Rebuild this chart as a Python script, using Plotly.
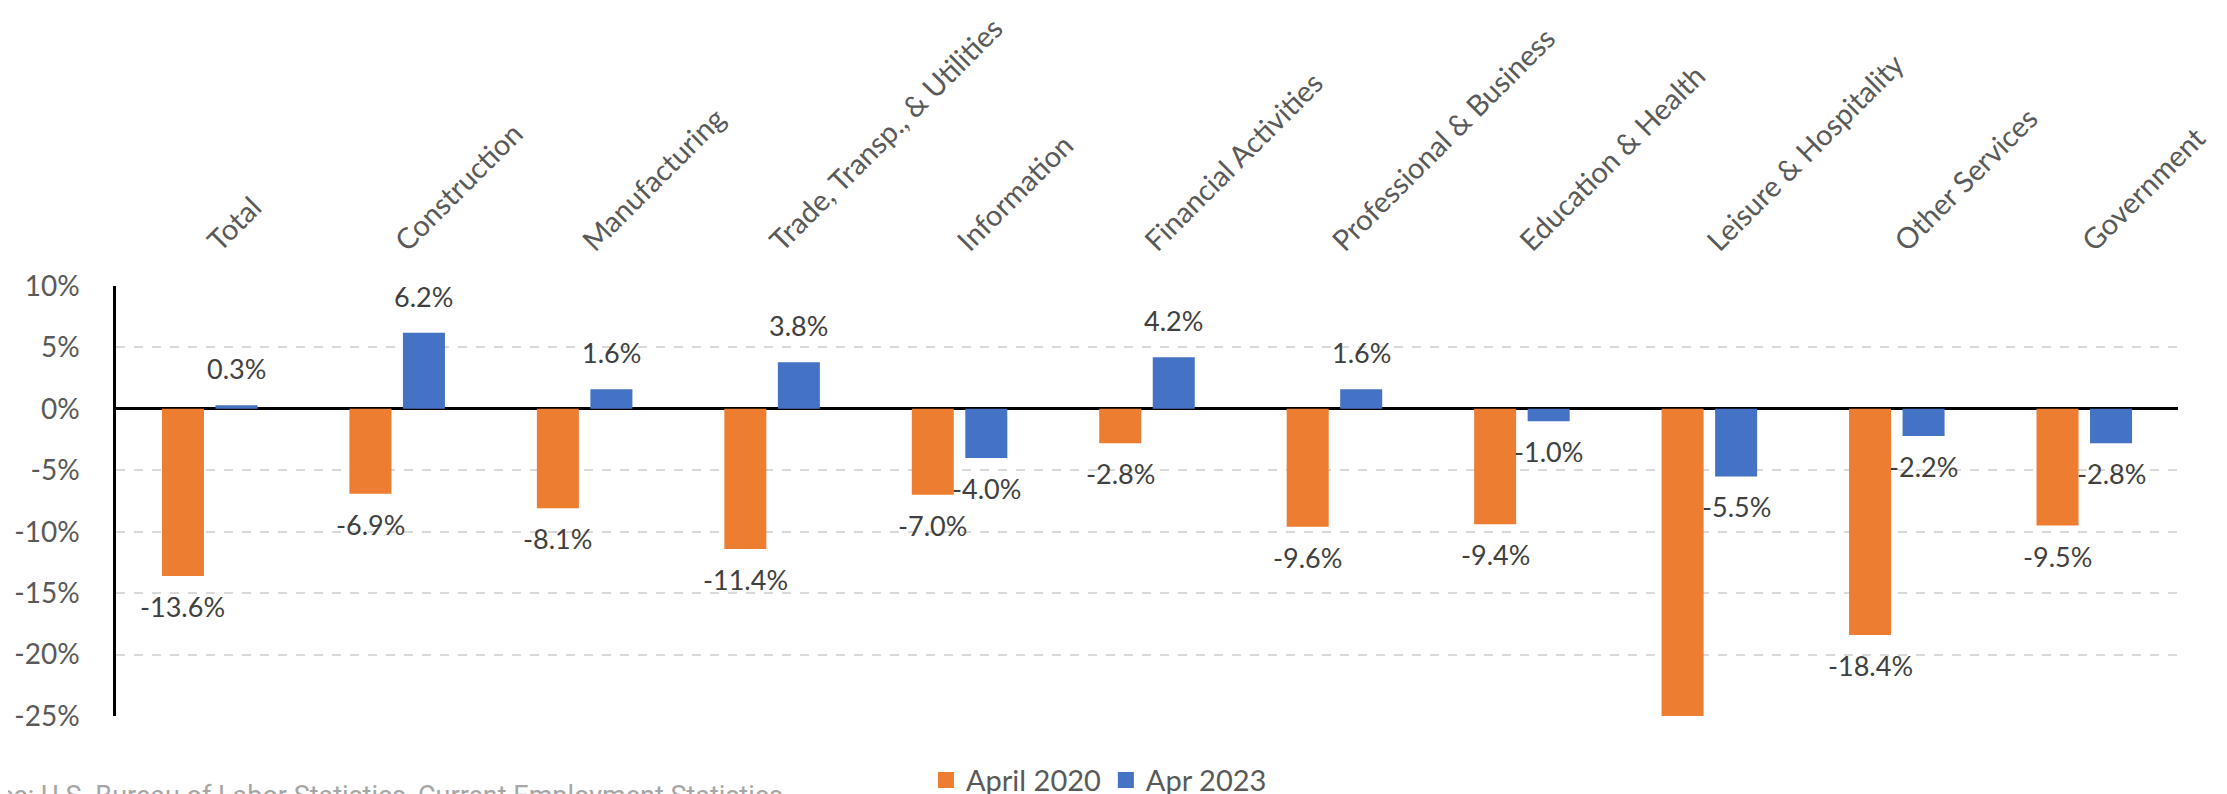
import plotly.graph_objects as go

categories = ["Total", "Construction", "Manufacturing", "Trade, Transp., & Utilities",
              "Information", "Financial Activities", "Professional & Business",
              "Education & Health", "Leisure & Hospitality", "Other Services", "Government"]
april_2020 = [-13.6, -6.9, -8.1, -11.4, -7.0, -2.8, -9.6, -9.4, -25.2, -18.4, -9.5]
apr_2023 = [0.3, 6.2, 1.6, 3.8, -4.0, 4.2, 1.6, -1.0, -5.5, -2.2, -2.8]
series_names = ["April 2020", "Apr 2023"]
y_ticks = [10, 5, 0, -5, -10, -15, -20, -25]

ORANGE = "#ED7D31"
BLUE = "#4472C4"
FONT = "Lato, Calibri, Carlito, sans-serif"
AXIS_COLOR = "#595959"
LABEL_COLOR = "#404040"

W, H = 2227, 794
ML, MR, MT, MB = 108, 57, 278, 86
BARGAP = 0.429
BARGROUPGAP = 0.215
Y_MIN, Y_MAX = -25, 10

fig = go.Figure()
for name, vals, col in ((series_names[0], april_2020, ORANGE), (series_names[1], apr_2023, BLUE)):
    fig.add_trace(go.Bar(name=name, x=categories, y=vals, showlegend=False,
                         marker=dict(color=col, line=dict(width=0))))
# legend entries with larger square swatches
for name, col in ((series_names[0], ORANGE), (series_names[1], BLUE)):
    fig.add_trace(go.Scatter(name=name, x=[None], y=[None], mode="markers",
                             marker=dict(symbol="square", size=17, color=col)))

# data labels
plot_w = W - ML - MR
plot_h = H - MT - MB
cat_px = plot_w / len(categories)
half_slot = (1 - BARGAP) * cat_px / 4
annotations = []
for series, shift in ((april_2020, -half_slot), (apr_2023, half_slot)):
    for cat, v in zip(categories, series):
        if v < Y_MIN or v > Y_MAX:
            continue
        pos = v >= 0
        annotations.append(dict(
            x=cat, y=v, xref="x", yref="y", text=f"{v:.1f}%", showarrow=False,
            xshift=shift, yshift=18 if pos else -12,
            yanchor="bottom" if pos else "top", xanchor="center",
            font=dict(family=FONT, size=27, color=LABEL_COLOR)))

annotations.append(dict(
    x=-(ML + 66) / plot_w, y=-(770 - (H - MB)) / plot_h, xref="paper", yref="paper",
    xanchor="left", yanchor="top", showarrow=False,
    text="Source: U.S. Bureau of Labor Statistics, Current Employment Statistics",
    font=dict(family="Roboto, sans-serif", size=27, color="#A6A6A6")))

fig.update_layout(
    width=W, height=H,
    margin=dict(l=ML, r=MR, t=MT, b=MB, autoexpand=False),
    barmode="group", bargap=BARGAP, bargroupgap=BARGROUPGAP,
    plot_bgcolor="white", paper_bgcolor="white",
    font=dict(family=FONT, size=27, color=AXIS_COLOR),
    showlegend=True,
    legend=dict(orientation="h", x=0.4767, xanchor="center", y=-0.09, yanchor="top",
                font=dict(family=FONT, size=29, color=AXIS_COLOR),
                itemwidth=30, traceorder="normal", tracegroupgap=0),
    annotations=annotations,
)
fig.update_xaxes(side="top", tickangle=-45, ticks="", showgrid=False, showline=False,
                 tickfont=dict(family=FONT, size=29, color=AXIS_COLOR),
                 ticklabelstandoff=22)
fig.update_yaxes(range=[Y_MIN, Y_MAX], tickvals=y_ticks, ticktext=[f"{t}%" for t in y_ticks],
                 showgrid=True, gridcolor="#D9D9D9", gridwidth=1.5, griddash="dash",
                 zeroline=True, zerolinecolor="black", zerolinewidth=2.5,
                 showline=True, linecolor="black", linewidth=2.5,
                 ticks="", ticklabelstandoff=28,
                 tickfont=dict(family=FONT, size=28, color=AXIS_COLOR))

fig.write_html("out.html")
